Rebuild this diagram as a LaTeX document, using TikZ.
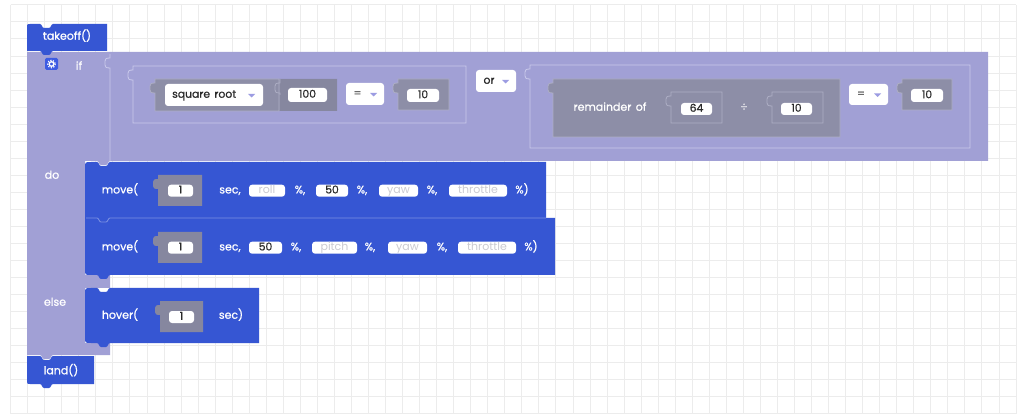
\documentclass[tikz,border=0pt]{standalone}
\usepackage{fontspec}
\setmainfont{Poppins}[WordSpace=1.5]
\newfontfamily\popmed{Poppins}[WordSpace=1.5,FakeBold=0.8]
\definecolor{blk}{HTML}{3656D3}
\definecolor{purp}{HTML}{A1A0D5}
\definecolor{gry}{HTML}{8D8EA7}
\definecolor{gryslot}{HTML}{86879F}
\definecolor{gryline}{HTML}{ADAEC4}
\definecolor{frameln}{HTML}{CACAEB}
\definecolor{gridc}{HTML}{ECECEC}
\definecolor{darktxt}{HTML}{2A2A2A}
\definecolor{ghosttxt}{HTML}{CBCBD2}
\definecolor{arrowc}{HTML}{9C9CE2}
\definecolor{gearc}{HTML}{3D5BE2}
\newcommand\lblfont{\popmed\fontsize{11}{12}\selectfont}
\newcommand\pilfont{\popmed\fontsize{10.8}{12}\selectfont}
\newcommand\ghfont{\fontsize{11}{12}\selectfont}
\newcommand\dipR[2]{-- (#1,#2) .. controls (#1+2,#2) and (#1+2,#2+4) .. (#1+4,#2+4) -- (#1+9,#2+4) .. controls (#1+11,#2+4) and (#1+11,#2) .. (#1+13,#2)}
\newcommand\bumpL[2]{-- (#1,#2) .. controls (#1-2,#2) and (#1-2,#2+4) .. (#1-4,#2+4) -- (#1-9,#2+4) .. controls (#1-11,#2+4) and (#1-11,#2) .. (#1-13,#2)}
\newcommand\tabL[2]{-- (#1,#2+14) .. controls (#1-4,#2+14) and (#1-5,#2+13) .. (#1-5,#2+11) -- (#1-5,#2+7) .. controls (#1-5,#2+5) and (#1-4,#2+4) .. (#1,#2+4) -- (#1,#2)}
\tikzset{
  gridline/.style={draw=gridc, line width=1pt},
  lbl/.style={text=white, font=\lblfont, inner sep=0pt, text height=7.5pt, text depth=2pt},
  pill/.style={fill=white, rounded corners=3pt, inner sep=0pt, font=\pilfont, text=darktxt, text height=7pt, text depth=1.5pt},
  ghost/.style={pill, text=ghosttxt, font=\ghfont},
  ddtxt/.style={text=darktxt, font=\pilfont, inner sep=0pt, text height=7pt, text depth=1.5pt},
  frame/.style={draw=frameln, line width=0.8pt},
  gframe/.style={draw=gryline, line width=0.8pt},
  sepline/.style={draw=white, draw opacity=0.35, line width=0.8pt},
  ddarrow/.style={fill=arrowc}
}
\begin{document}
\begin{tikzpicture}[x=1pt,y=-1pt]
\useasboundingbox (0,0) rectangle (1024,419);
\fill[white] (0,0) rectangle (1024,419);
% grid
\foreach \i in {0,...,59} \draw[gridline] ({10.7+17.04*\i},4.9) -- ({10.7+17.04*\i},413.9);
\foreach \j in {0,...,24} \draw[gridline] (10.7,{4.9+17.04*\j}) -- (1016.1,{4.9+17.04*\j});

% if block (purple C shape)
\fill[purp] (27,52) -- (988,52) -- (988,161) \bumpL{110}{161} -- (85,161) -- (85,275) -- (110,275) -- (110,288) -- (85,288) -- (85,343) -- (110,343) -- (110,355) \bumpL{53}{355} -- (27,355) -- cycle;

% takeoff
\fill[blk] (27,51) -- (27,27) .. controls (27,24) .. (30,24) \dipR{40}{24} -- (107,24) -- (107,51) \bumpL{53}{51} -- cycle;
\node[lbl] (takeoff) at (67,37) {takeoff()};

% gear + if
\node[fill=gearc, rounded corners=1.5pt, minimum width=13pt, minimum height=12pt, inner sep=0pt] (gear) at (51.5,64) {};
\draw[white, line width=1.3pt] (gear.center) circle (2.3);
\draw[white, line width=1.2pt, dash pattern=on 1.2pt off 1.5pt] (gear.center) circle (3.8);
\node[lbl] (iflbl) at (79,67) {if};

% or-block outline (left edge with tab)
\draw[frame] (110,161) \tabL{110}{54};

% left comparison frame
\draw[frame] (133,123) \tabL{133}{66} -- (466,66) -- (466,123) -- cycle;
% square root block
\fill[gry] (155,111) \tabL{155}{79} -- (337,79) -- (337,111) -- cycle;
\draw[gframe] (155,111) \tabL{155}{79} -- (279,79) -- (279,111) -- cycle;
\fill[gryslot] (280,111) -- (280,79) -- (337,79) -- (337,111) -- cycle;
\draw[gframe] (280,95) \tabL{280}{79};
\node[pill, minimum width=98pt, minimum height=22pt] (sqrtdd) at (214,95) {};
\node[ddtxt, anchor=west] (sqrtt) at (172,95) {square root};
\fill[ddarrow] (248,94) -- (255,94) -- (251.5,97.5) -- cycle;
\node[pill, minimum width=39pt, minimum height=14pt] (v100) at (307.5,95) {100};
% = dropdown 1
\node[pill, minimum width=38pt, minimum height=22pt] (eq1) at (365,94) {};
\node[ddtxt, text=darktxt!70] (eq1t) at (357.5,94) {=};
\fill[ddarrow] (370,93) -- (377,93) -- (373.5,96.5) -- cycle;
% 10 slot 1
\fill[gry] (398,110) \tabL{398}{79} -- (449,79) -- (449,110) -- cycle;
\draw[gframe] (398,110) \tabL{398}{79} -- (449,79) -- (449,110) -- cycle;
\node[pill, minimum width=32pt, minimum height=13pt] (v10a) at (423,95.5) {10};

% or dropdown
\node[pill, minimum width=40pt, minimum height=22pt] (ordd) at (496,81) {};
\node[ddtxt] (ort) at (489,81) {or};
\fill[ddarrow] (502,80) -- (509,80) -- (505.5,83.5) -- cycle;

% right comparison frame
\draw[frame] (530,148) \tabL{530}{65} -- (970,65) -- (970,148) -- cycle;
% remainder block
\fill[gry] (553,137) \tabL{553}{79} -- (840,79) -- (840,137) -- cycle;
\draw[gframe] (553,137) \tabL{553}{79} -- (840,79) -- (840,137) -- cycle;
\node[lbl] (rem) at (610,108) {remainder of};
\draw[gframe] (671,123) \tabL{671}{92} -- (722,92) -- (722,123) -- cycle;
\node[pill, minimum width=31pt, minimum height=12pt] (v64) at (696.5,109) {64};
\node[lbl, text=white!80!gry] (divsym) at (744,108) {÷};
\draw[gframe] (772,123) \tabL{772}{92} -- (823,92) -- (823,123) -- cycle;
\node[pill, minimum width=31pt, minimum height=12pt] (v10b) at (796.5,109) {10};
% = dropdown 2
\node[pill, minimum width=39pt, minimum height=21pt] (eq2) at (868.5,94.5) {};
\node[ddtxt, text=darktxt!70] (eq2t) at (861,94.5) {=};
\fill[ddarrow] (874,93.5) -- (881,93.5) -- (877.5,97) -- cycle;
% 10 slot 2
\fill[gry] (902,110) \tabL{902}{79} -- (952,79) -- (952,110) -- cycle;
\draw[gframe] (902,110) \tabL{902}{79} -- (952,79) -- (952,110) -- cycle;
\node[pill, minimum width=32pt, minimum height=13pt] (v10c) at (927,95.5) {10};

% do / else labels
\node[lbl] (dolbl) at (52,176) {do};
\node[lbl] (elselbl) at (55,303) {else};

% move 2 (drawn first)
\fill[blk] (85,218) -- (555,218) -- (555,275) \bumpL{110}{275} -- (91,275) .. controls (85,275) .. (85,269) -- cycle;
% move 1
\fill[blk] (85,218) -- (85,168) .. controls (85,162) .. (91,162) \dipR{97}{162} -- (546,162) -- (546,218) -- cycle;
\draw[sepline] (86,218) -- (97,218) .. controls (99,218) and (99,222) .. (101,222) -- (106,222) .. controls (108,222) and (108,218) .. (110,218) -- (546,218);

% move 1 contents
\node[lbl] (mv1) at (120,190.7) {move(};
\fill[gryslot] (158,206) \tabL{158}{175} -- (202,175) -- (202,206) -- cycle;
\node[pill, minimum width=25pt, minimum height=12pt] (m1t) at (180.5,190.7) {1};
\node[lbl] (m1s) at (230,190.7) {sec,};
\node[ghost, minimum width=36pt, minimum height=12pt] (m1roll) at (267,190.7) {roll};
\node[lbl] (m1p1) at (300,190.7) {\%,};
\node[pill, minimum width=32pt, minimum height=12pt] (m1pitch) at (332,190.7) {50};
\node[lbl] (m1p2) at (362,190.7) {\%,};
\node[ghost, minimum width=39pt, minimum height=12pt] (m1yaw) at (398.5,190.7) {yaw};
\node[lbl] (m1p3) at (432,190.7) {\%,};
\node[ghost, minimum width=58pt, minimum height=12pt] (m1thr) at (478,190.7) {throttle};
\node[lbl] (m1p4) at (522,190.7) {\%)};

% move 2 contents
\node[lbl] (mv2) at (120,247.7) {move(};
\fill[gryslot] (158,263) \tabL{158}{232} -- (202,232) -- (202,263) -- cycle;
\node[pill, minimum width=25pt, minimum height=12pt] (m2t) at (180.5,247.7) {1};
\node[lbl] (m2s) at (230,247.7) {sec,};
\node[pill, minimum width=33pt, minimum height=12pt] (m2roll) at (265.5,247.7) {50};
\node[lbl] (m2p1) at (296,247.7) {\%,};
\node[ghost, minimum width=45pt, minimum height=12pt] (m2pitch) at (334.5,247.7) {pitch};
\node[lbl] (m2p2) at (370,247.7) {\%,};
\node[ghost, minimum width=39pt, minimum height=12pt] (m2yaw) at (407.5,247.7) {yaw};
\node[lbl] (m2p3) at (442,247.7) {\%,};
\node[ghost, minimum width=58pt, minimum height=12pt] (m2thr) at (487,247.7) {throttle};
\node[lbl] (m2p4) at (531,247.7) {\%)};

% hover
\fill[blk] (85,337) -- (85,294) .. controls (85,288) .. (91,288) \dipR{97}{288} -- (259,288) -- (259,343) \bumpL{110}{343} -- (91,343) .. controls (85,343) .. (85,337) -- cycle;
\node[lbl] (hov) at (120,316) {hover(};
\fill[gryslot] (160,332) \tabL{160}{301} -- (203,301) -- (203,332) -- cycle;
\node[pill, minimum width=25pt, minimum height=12pt] (ht) at (181.5,317) {1};
\node[lbl] (hs) at (231,316) {sec)};

% land
\fill[blk] (27,356) \dipR{40}{356} -- (94,356) -- (94,384) \bumpL{53}{384} -- (30,384) .. controls (27,384) .. (27,381) -- cycle;
\node[lbl] (land) at (61,371.5) {land()};
\end{tikzpicture}
\end{document}
